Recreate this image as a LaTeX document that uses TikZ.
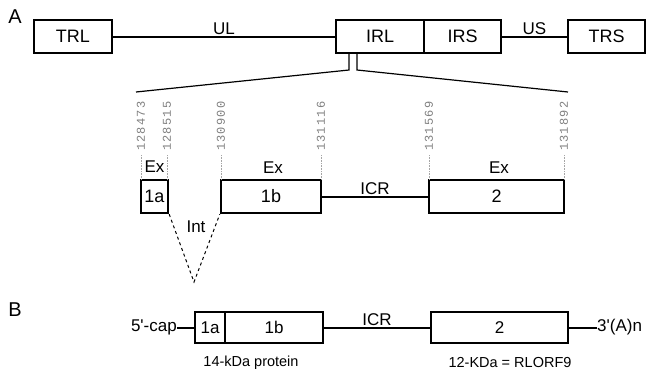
\documentclass[tikz,border=0pt]{standalone}
\usepackage{fontspec}
\setmainfont{Liberation Sans}[Ligatures=TeXOff]
\newfontfamily\numfont[LetterSpace=10]{Liberation Mono}
\begin{document}
\begin{tikzpicture}[x=1pt,y=-1pt,
  gbox/.style={draw,line width=2.4pt,rectangle,inner sep=0pt,minimum height=33pt,font=\fontsize{18}{21}\selectfont},
  bbox/.style={draw,line width=2.4pt,rectangle,inner sep=0pt,minimum height=31pt,font=\fontsize{17}{20}\selectfont},
  conn/.style={line width=2pt},
  thinl/.style={line width=1.2pt},
  lab/.style={font=\fontsize{17}{20}\selectfont,inner sep=1pt},
  numlab/.style={rotate=90,anchor=west,inner sep=0pt,text=gray,font=\numfont\fontsize{12}{14}\selectfont},
  guide/.style={gray!70,line width=0.6pt,densely dotted},
  small/.style={font=\fontsize{14.5}{17}\selectfont}]
\useasboundingbox (0,0) rectangle (652,375);
% Panel A genome
\node[font=\fontsize{20}{24}\selectfont] (A) at (15,17) {A};
\node[gbox,minimum width=78pt] (TRL) at (73,36.5) {TRL};
\node[gbox,minimum width=88pt] (IRL) at (380,36.5) {IRL};
\node[gbox,minimum width=77pt] (IRS) at (462.5,36.5) {IRS};
\node[gbox,minimum width=77pt] (TRS) at (606.5,36.5) {TRS};
\draw[conn] (TRL.east) -- node[lab,above=0pt] (UL) {UL} (IRL.west);
\draw[conn] (IRS.east) -- node[lab,above=0pt] (US) {US} (TRS.west);
% zoom lines
\coordinate (z1) at (349,70);
\coordinate (z2) at (357,70);
\coordinate (zL) at (136,92);
\coordinate (zR) at (568,92);
\draw[thinl] (IRL.south -| z1) -- (z1) -- (zL);
\draw[thinl] (IRL.south -| z2) -- (z2) -- (zR);
% exons
\node[gbox,minimum width=27pt] (e1a) at (154.5,196.5) {1a};
\node[gbox,minimum width=100pt] (e1b) at (271,196.5) {1b};
\node[gbox,minimum width=135pt] (e2) at (496.5,196.5) {2};
\draw[conn] (e1b.east) -- node[lab,above=0pt] (ICRa) {ICR} (e2.west);
\node[lab] (ex1) at (154.5,167) {Ex};
\node[lab] (ex2) at (273,168) {Ex};
\node[lab] (ex3) at (499,168) {Ex};
% intron
\coordinate (iv) at (194,282);
\draw[line width=1pt,dashed] (e1a.south east) -- (iv) -- (e1b.south west);
\node[lab] (Int) at (196,227) {Int};
% coordinates
\foreach \n/\x/\t in {n1/141/128473,n2/167/128515,n3/221/130900,n4/321/131116,n5/429/131569,n6/564/131892}{
  \node[numlab] (\n) at (\x,151) {\t};
  \draw[guide] (\n.east |- 0,155) -- (\x,180);
}
% Panel B
\node[font=\fontsize{20}{24}\selectfont] (B) at (15,310) {B};
\node[bbox,minimum width=30pt] (b1a) at (210,327.5) {1a};
\node[bbox,minimum width=98pt] (b1b) at (274,327.5) {1b};
\node[bbox,minimum width=137pt] (b2) at (499.5,327.5) {2};
\node[lab,anchor=east,inner sep=0pt] (cap) at (177,327.5) {5'-cap};
\node[lab,anchor=west,inner sep=0pt] (polyA) at (597,327.5) {3'(A)n};
\draw[conn] (cap.east) -- (b1a.west);
\draw[conn] (b1b.east) -- node[lab,above=0pt] (ICRb) {ICR} (b2.west);
\draw[conn] (b2.east) -- (polyA.west);
\node[small] (p14) at (251,363) {14-kDa protein};
\node[small] (p12) at (510,363) {12-KDa = RLORF9};
\end{tikzpicture}
\end{document}
